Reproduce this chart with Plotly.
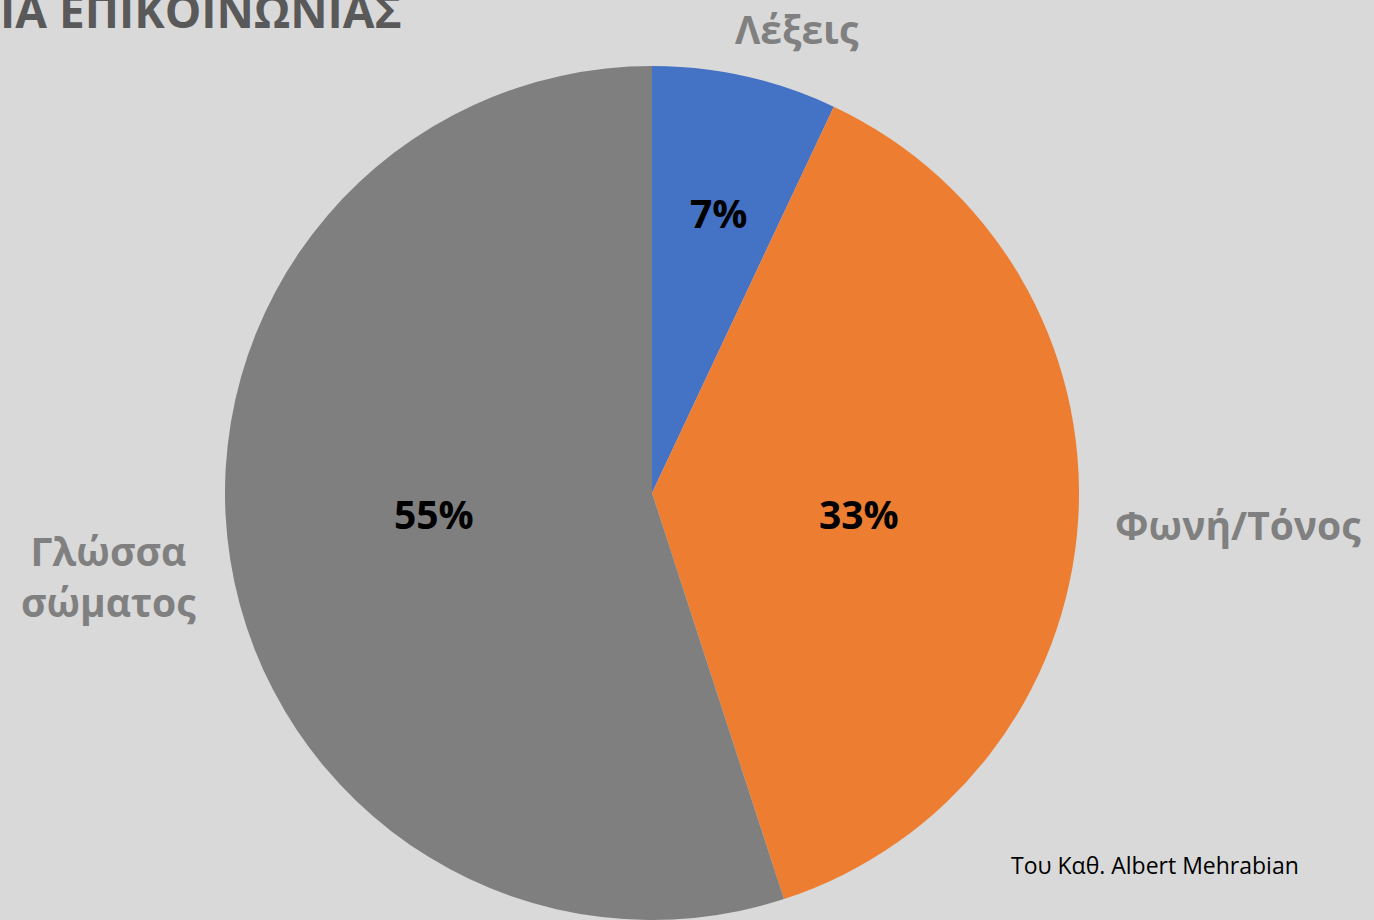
import plotly.graph_objects as go

# data
categories = ["Λέξεις", "Φωνή/Τόνος", "Γλώσσα<br>σώματος"]
values = [7, 38, 55]
pct_labels = ["7%", "33%", "55%"]
colors = ["#4472C4", "#ED7D31", "#7F7F7F"]

W, H = 1374, 920
bg = "#D9D9D9"

fig = go.Figure(go.Pie(
    labels=categories,
    values=values,
    sort=False,
    direction="clockwise",
    rotation=0,
    marker=dict(colors=colors, line=dict(width=0)),
    textinfo="none",
    hoverinfo="label+percent",
    showlegend=False,
    domain=dict(x=[224 / W, 1080 / W], y=[0, 1 - 66 / H]),
))

def px(x, y):
    return x / W, 1 - y / H

annots = []
# percentages inside slices
for txt, (x, y) in zip(pct_labels, [(718, 213), (859, 513), (434, 513)]):
    ax, ay = px(x, y)
    annots.append(dict(x=ax, y=ay, xanchor="center", yanchor="middle",
                       text="<b>%s</b>" % txt, showarrow=False,
                       font=dict(family="Open Sans", size=39, color="black")))
# category labels outside
for txt, (x, y) in zip(categories, [(797, 29), (1238, 524), (108, 576)]):
    ax, ay = px(x, y)
    annots.append(dict(x=ax, y=ay, xanchor="center", yanchor="middle",
                       text="<b>%s</b>" % txt, showarrow=False,
                       font=dict(family="Open Sans", size=39, color="#808080")))
# title, cut off at the top edge like in the original slide
tx, ty = px(404, 10)
annots.append(dict(x=tx, y=ty, xanchor="right", yanchor="middle",
                   text="<b>ΙΑ ΕΠΙΚΟΙΝΩΝΙΑΣ</b>", showarrow=False,
                   font=dict(family="Open Sans", size=46, color="#595959")))
# source note
sx, sy = px(1009, 865)
annots.append(dict(x=sx, y=sy, xanchor="left", yanchor="middle",
                   text="Του Καθ. Albert Mehrabian", showarrow=False,
                   font=dict(family="Open Sans", size=23, color="black")))

fig.update_layout(
    width=W, height=H,
    margin=dict(l=0, r=0, t=0, b=0),
    paper_bgcolor=bg, plot_bgcolor=bg,
    annotations=annots,
)
fig.write_html("out.html", config={"displayModeBar": False},
               post_script="document.body.style.margin='0';")
